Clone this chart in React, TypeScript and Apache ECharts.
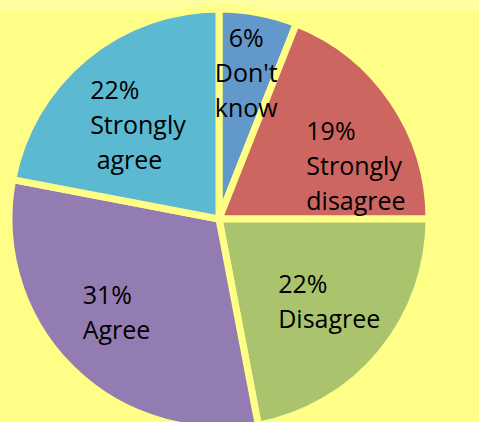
import React, { useEffect, useRef } from "react";
import * as echarts from "echarts";

const categories = ["Don't\nknow", "Strongly\ndisagree", "Disagree", "Agree", "Strongly\n\u00a0agree"];
const values = [6, 19, 22, 31, 22];
const colors = ["#6398CB", "#CD6661", "#AAC46D", "#937CB1", "#5BB9D1"];
const labelDx = [7, -2, -24, -60, -60];
const labelDy = [-41, 7, 13, 16, -12];
const labelAlign = ["center", "left", "left", "left", "left"];

export default function App() {
  const ref = useRef<HTMLDivElement>(null);
  useEffect(() => {
    const chart = echarts.init(ref.current!, null, { renderer: "svg" });
    chart.setOption({
      animation: false,
      backgroundColor: "#FFFF88",
      graphic: [
        { type: "rect", shape: { x: 0, y: 0, width: 479, height: 12 }, style: { fill: "#FFFF9E" }, z: -1 },
      ],
      series: [
        {
          type: "pie",
          center: [219, 219],
          radius: [0, 210],
          startAngle: 90,
          clockwise: true,
          silent: true,
          itemStyle: { borderColor: "#FFFF88", borderWidth: 7 },
          label: {
            show: true,
            position: "inside",
            formatter: (p: any) => `${p.value}%\n${p.name}`,
            fontFamily: "Open Sans",
            fontSize: 25,
            lineHeight: 35,
            color: "#000",
          },
          labelLine: { show: false },
          labelLayout: (p: any) => ({
            dx: labelDx[p.dataIndex],
            dy: labelDy[p.dataIndex],
            align: labelAlign[p.dataIndex],
          }),
          data: categories.map((c, i) => ({
            name: c,
            value: values[i],
            itemStyle: { color: colors[i] },
          })),
        },
      ],
    });
    return () => chart.dispose();
  }, []);
  return <div ref={ref} style={{ position: "absolute", left: 0, top: 0, width: 479, height: 422 }} />;
}
